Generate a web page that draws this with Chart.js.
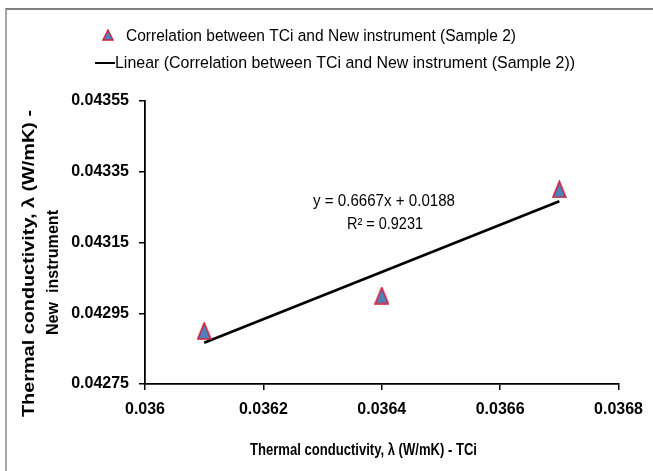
<!DOCTYPE html>
<html>
<head>
<meta charset="utf-8">
<script src="https://cdn.jsdelivr.net/npm/chart.js@4.4.0/dist/chart.umd.min.js"></script>
<style>
html, body { margin: 0; padding: 0; background: #fff; }
#wrap { position: relative; width: 653px; height: 471px; overflow: hidden; }
#frame { position: absolute; left: 5px; top: 8px; width: 700px; height: 500px;
         border-top: 2px solid #808080; border-left: 2px solid #a6a6a6; }
canvas { position: absolute; left: 0; top: 0; }
</style>
</head>
<body>
<div id="wrap">
  <div id="frame"></div>
  <canvas id="chart" width="653" height="471"></canvas>
</div>
<script>
// data
var tciValues = [0.0361, 0.0364, 0.0367];
var newInstrumentValues = [0.0429, 0.0430, 0.0433];
var xTicks = [0.036, 0.0362, 0.0364, 0.0366, 0.0368];
var yTicks = [0.04275, 0.04295, 0.04315, 0.04335, 0.04355];

var seriesLabel = 'Correlation between TCi and New instrument (Sample 2)';
var trendLabel = 'Linear (Correlation between TCi and New instrument (Sample 2))';
var equationText = 'y = 0.6667x + 0.0188';
var rSquaredText = 'R² = 0.9231';
var xTitle = 'Thermal conductivity, λ (W/mK) - TCi';
var yTitle = ['Thermal conductivity, λ (W/mK) -', 'New  instrument'];

var FONT = '"Liberation Sans", Arial, sans-serif';

// least squares fit, like the excel trendline
function linearFit(xs, ys) {
    var n = xs.length, mx = 0, my = 0, sxy = 0, sxx = 0;
    for (var i = 0; i < n; i++) { mx += xs[i]; my += ys[i]; }
    mx /= n; my /= n;
    for (var j = 0; j < n; j++) {
        sxy += (xs[j] - mx) * (ys[j] - my);
        sxx += (xs[j] - mx) * (xs[j] - mx);
    }
    var slope = sxy / sxx;
    return { slope: slope, intercept: my - slope * mx };
}

var fit = linearFit(tciValues, newInstrumentValues);
var xLo = Math.min.apply(null, tciValues);
var xHi = Math.max.apply(null, tciValues);
var trendPoints = [
    { x: xLo, y: fit.slope * xLo + fit.intercept },
    { x: xHi, y: fit.slope * xHi + fit.intercept }
];
var points = tciValues.map(function (v, i) { return { x: v, y: newInstrumentValues[i] }; });

function makeTriangle(w, h, lw) {
    var c = document.createElement('canvas');
    c.width = w + 2; c.height = h + 2;
    var g = c.getContext('2d');
    g.beginPath();
    g.moveTo(c.width / 2, 1);
    g.lineTo(w + 1, h + 1);
    g.lineTo(1, h + 1);
    g.closePath();
    g.fillStyle = '#4f81bd';
    g.fill();
    g.lineWidth = lw;
    g.strokeStyle = '#d0203a';
    g.stroke();
    return c;
}
var marker = makeTriangle(13, 16, 1.6);
var legendMarker = makeTriangle(10, 10, 1.4);

// text squeezed/stretched to the width seen in the picture
function drawText(ctx, text, x, y, font, width, align, sy) {
    ctx.save();
    ctx.font = font;
    var w = ctx.measureText(text).width;
    var sx = width ? width / w : 1;
    ctx.translate(x, y);
    ctx.scale(sx, sy || 1);
    ctx.textAlign = align || 'left';
    ctx.textBaseline = 'alphabetic';
    ctx.fillStyle = '#000';
    ctx.fillText(text, 0, 0);
    ctx.restore();
}

var extras = {
    id: 'extras',
    afterDraw: function (chart) {
        var ctx = chart.ctx;
        // legend
        ctx.drawImage(legendMarker, 108 - legendMarker.width / 2, 35 - legendMarker.height / 2);
        drawText(ctx, seriesLabel, 126, 40.5, '15px ' + FONT, 390, 'left', 1.1);
        ctx.save();
        ctx.strokeStyle = '#000';
        ctx.lineWidth = 2;
        ctx.beginPath();
        ctx.moveTo(95, 63);
        ctx.lineTo(115, 63);
        ctx.stroke();
        ctx.restore();
        drawText(ctx, trendLabel, 115, 67.5, '15px ' + FONT, 460, 'left', 1.1);

        // trendline label
        drawText(ctx, equationText, 384, 206, '15px ' + FONT, 142, 'center', 1.1);
        drawText(ctx, rSquaredText, 385, 228.5, '15px ' + FONT, 76, 'center', 1.1);

        // axis titles
        drawText(ctx, xTitle, 363.5, 455, 'bold 17px ' + FONT, 227, 'center', 1.0);
        ctx.save();
        ctx.translate(34, 263.5);
        ctx.rotate(-Math.PI / 2);
        drawText(ctx, yTitle[0], 0, 0, 'bold 16px ' + FONT, 307, 'center');
        ctx.restore();
        ctx.save();
        ctx.translate(57.5, 272.5);
        ctx.rotate(-Math.PI / 2);
        drawText(ctx, yTitle[1], 0, 0, 'bold 16px ' + FONT, 125, 'center');
        ctx.restore();
    }
};

var chart = new Chart(document.getElementById('chart'), {
    type: 'scatter',
    data: {
        datasets: [
            {
                label: seriesLabel,
                data: points,
                pointStyle: marker,
                pointRadius: 8,
                pointHoverRadius: 8,
                order: 0
            },
            {
                label: trendLabel,
                data: trendPoints,
                showLine: true,
                borderColor: '#000',
                borderWidth: 2.6,
                pointRadius: 0,
                pointHoverRadius: 0,
                fill: false,
                order: 1
            }
        ]
    },
    options: {
        responsive: false,
        animation: false,
        devicePixelRatio: 1,
        layout: { padding: { top: 101, right: 34, left: 0, bottom: 0 } },
        plugins: {
            legend: { display: false },
            tooltip: { enabled: false }
        },
        scales: {
            x: {
                type: 'linear',
                min: xTicks[0],
                max: xTicks[xTicks.length - 1],
                afterBuildTicks: function (scale) {
                    scale.ticks = xTicks.map(function (v) { return { value: v }; });
                },
                afterFit: function (scale) { scale.height = 87; },
                ticks: {
                    callback: function (v) { return String(v); },
                    font: { family: FONT, size: 16, weight: 'bold' },
                    color: '#000',
                    padding: 10,
                    maxRotation: 0
                },
                grid: { drawOnChartArea: false, drawTicks: true, tickLength: 6, color: '#000', lineWidth: 1.5 },
                border: { display: true, color: '#000', width: 1.8 }
            },
            y: {
                type: 'linear',
                min: yTicks[0],
                max: yTicks[yTicks.length - 1],
                afterBuildTicks: function (scale) {
                    scale.ticks = yTicks.map(function (v) { return { value: v }; });
                },
                afterFit: function (scale) { scale.width = 145; },
                ticks: {
                    callback: function (v) { return String(v); },
                    font: { family: FONT, size: 16, weight: 'bold' },
                    color: '#000',
                    padding: 10
                },
                grid: { drawOnChartArea: false, drawTicks: true, tickLength: 6, color: '#000', lineWidth: 1.5 },
                border: { display: true, color: '#000', width: 1.8 }
            }
        }
    },
    plugins: [extras]
});
</script>
</body>
</html>
